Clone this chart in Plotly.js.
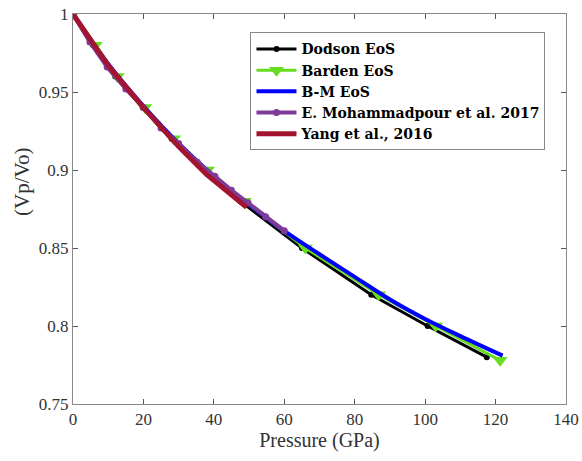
<!DOCTYPE html>
<html>
<head>
<meta charset="utf-8">
<script src="https://cdn.plot.ly/plotly-3.0.1.min.js"></script>
<style>html,body{margin:0;padding:0;background:#fff;}#chart{width:582px;height:461px;}</style>
</head>
<body>
<div id="chart"></div>
<script>
// Dodson EoS
const dodsonP = [0, 5.7, 12, 19.8, 28, 37.5, 47.5, 65, 84.7, 100.7, 117.5];
const dodsonV = [1, 0.98, 0.96, 0.94, 0.92, 0.90, 0.88, 0.85, 0.82, 0.80, 0.78];
// Barden EoS
const bardenP = [0, 6.3, 12.6, 20.4, 28.6, 38.2, 48.6, 66, 86.8, 103, 121.3];
const bardenV = [1, 0.98, 0.96, 0.94, 0.92, 0.90, 0.88, 0.85, 0.82, 0.80, 0.778];
// B-M EoS
const bmP = [0, 10, 20, 30, 40, 50, 60, 70, 80, 90, 100, 110, 122];
const bmV = [1, 0.968, 0.941, 0.917, 0.896, 0.878, 0.861, 0.846, 0.8315, 0.817, 0.8045, 0.7935, 0.781];
// E. Mohammadpour et al. 2017
const mohP = [0, 4.8, 9.7, 15, 20, 25, 30, 35.3, 40.3, 45, 49.7, 54.7, 60];
const mohV = [1, 0.982, 0.966, 0.952, 0.940, 0.927, 0.917, 0.905, 0.896, 0.887, 0.879, 0.870, 0.861];
// Yang et al., 2016
const yangP = [0, 10, 20, 30, 38, 49.3];
const yangV = [1, 0.967, 0.940, 0.915, 0.897, 0.876];

const yTitle = '(Vp/Vo)';
const xTitle = 'Pressure (GPa)';

const serif = '"Liberation Serif", "Times New Roman", Times, serif';

const traces = [
  {x: dodsonP, y: dodsonV, name: 'Dodson EoS', mode: 'lines+markers',
   line: {color: '#000000', width: 3}, marker: {symbol: 'circle', size: 6, color: '#000000'}},
  {x: bardenP, y: bardenV, name: 'Barden EoS', mode: 'lines+markers',
   line: {color: '#66dd1f', width: 3}, marker: {symbol: 'triangle-down', size: 13, color: '#66dd1f'}},
  {x: bmP, y: bmV, name: 'B-M EoS', mode: 'lines', line: {color: '#0000ff', width: 4, shape: 'spline'}},
  {x: mohP, y: mohV, name: 'E. Mohammadpour et al. 2017', mode: 'lines+markers',
   line: {color: '#7e3b97', width: 4}, marker: {symbol: 'circle', size: 7, color: '#7e3b97'}},
  {x: yangP, y: yangV, name: 'Yang et al., 2016', mode: 'lines',
   line: {color: '#a3142e', width: 5}}
];

const tickFont = {family: serif, size: 17, color: '#333'};
const layout = {
  width: 582, height: 461,
  margin: {l: 73, r: 16, t: 14, b: 57},
  paper_bgcolor: '#fff', plot_bgcolor: '#fff',
  showlegend: true,
  xaxis: {
    range: [0, 140], dtick: 20, tick0: 0,
    showline: true, mirror: 'ticks', linecolor: '#8a8a8a', linewidth: 1,
    ticks: 'inside', ticklen: 5, tickcolor: '#555',
    showgrid: false, zeroline: false,
    tickfont: tickFont,
    title: {text: xTitle, font: {family: serif, size: 20, color: '#333'}, standoff: 4}
  },
  yaxis: {
    range: [0.75, 1], dtick: 0.05, tick0: 0.75,
    showline: true, mirror: 'ticks', linecolor: '#8a8a8a', linewidth: 1,
    ticks: 'inside', ticklen: 5, tickcolor: '#555',
    showgrid: false, zeroline: false,
    tickfont: tickFont
  },
  annotations: [{
    text: yTitle, xref: 'paper', yref: 'paper', x: -0.105, y: 0.57,
    xanchor: 'center', yanchor: 'middle', textangle: -90, showarrow: false,
    font: {family: serif, size: 21, color: '#333'}
  }],
  legend: {
    x: 0.36, y: 0.953, xanchor: 'left', yanchor: 'top',
    bgcolor: '#fff', bordercolor: '#888', borderwidth: 1,
    font: {family: '"DejaVu Serif", serif', size: 14, color: '#000', weight: 'bold'},
    tracegroupgap: 0, itemwidth: 40
  }
};

Plotly.newPlot('chart', traces, layout, {displayModeBar: false, staticPlot: true});
</script>
</body>
</html>
